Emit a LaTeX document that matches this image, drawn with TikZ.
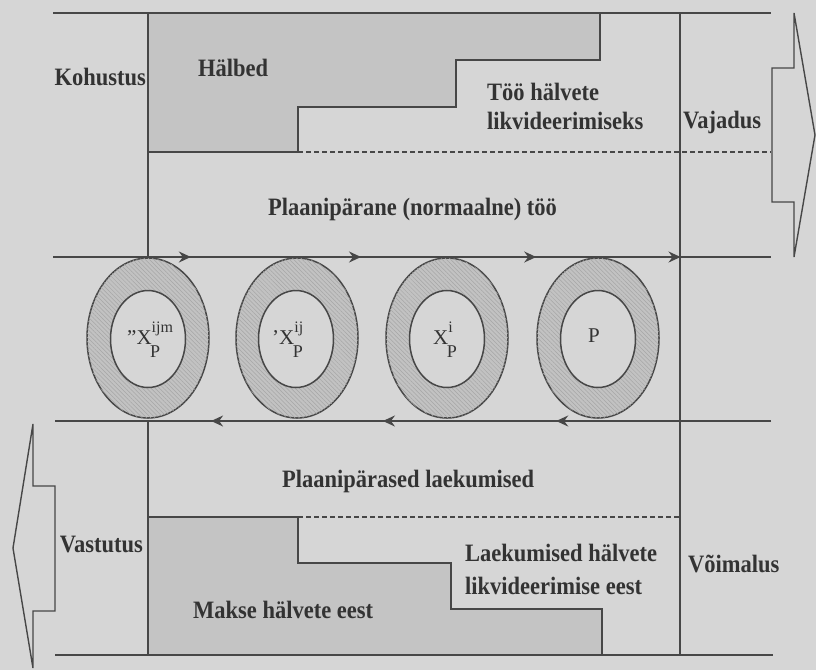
\documentclass[tikz,border=0pt]{standalone}
\usepackage{fontspec}
\setmainfont{Liberation Serif}
\newfontfamily\labelfont[FakeStretch=0.9]{Liberation Serif}
\usetikzlibrary{arrows.meta,decorations.markings,shapes.geometric,patterns.meta}

\definecolor{paper}{HTML}{D6D6D6}
\definecolor{ink}{HTML}{474747}
\definecolor{txt}{HTML}{333333}
\definecolor{stipple}{HTML}{C4C4C4}
\definecolor{hatchbase}{HTML}{C2C2C2}
\definecolor{hatchline}{HTML}{A6A6A6}

\tikzset{flowtip/.tip={Stealth[length=12pt,width=11pt,inset=4pt]}}

% X with an upper and a lower index, set in text mode
\newcommand{\idxsym}[3]{#1X\rlap{\raisebox{0.55em}{\fontsize{16}{16}\selectfont #2}}\kern-1.5pt\raisebox{-0.62em}{\fontsize{18}{18}\selectfont #3}}

\begin{document}
\begin{tikzpicture}[x=1pt,y=-1pt,
  rule/.style={draw=ink, line width=1.8pt},
  region/.style={fill=stipple, draw=ink, line width=1.8pt, line join=miter},
  divider/.style={draw=ink, line width=1.4pt, dash pattern=on 5pt off 3pt},
  caption/.style={font=\labelfont\bfseries\fontsize{25}{27}\selectfont, text=txt, inner sep=0pt},
  symbol/.style={font=\fontsize{21}{23}\selectfont, text=txt, inner sep=0pt},
  ring/.style={ellipse, draw=ink, line width=1.5pt, minimum width=122pt, minimum height=160pt,
    inner sep=0pt, fill=hatchbase,
    postaction={pattern={Lines[angle=-45,distance=3pt,line width=0.5pt]}, pattern color=hatchline}},
  core/.style={ellipse, draw=ink, line width=1.5pt, minimum width=75pt, minimum height=97pt,
    inner sep=0pt, fill=paper},
  flowright/.style={decoration={markings,
      mark=at position 0.192 with {\arrow{flowtip}},
      mark=at position 0.429 with {\arrow{flowtip}},
      mark=at position 0.673 with {\arrow{flowtip}},
      mark=at position 0.874 with {\arrow{flowtip}}}, postaction=decorate},
  flowleft/.style={decoration={markings,
      mark=at position 0.300 with {\arrow{flowtip}},
      mark=at position 0.542 with {\arrow{flowtip}},
      mark=at position 0.782 with {\arrow{flowtip}}}, postaction=decorate},
  bigarrow/.style={draw=ink, line width=1.4pt, line join=miter}
]
\useasboundingbox (0,0) rectangle (816,670);
\fill[paper] (0,0) rectangle (816,670);

% frame coordinates
\coordinate (tl) at (53,13);   \coordinate (tr) at (771,13);
\coordinate (ml) at (53,257);  \coordinate (mr) at (771,257);
\coordinate (nl) at (55,421);  \coordinate (nr) at (771,421);
\coordinate (bl) at (55,655);  \coordinate (br) at (773,655);
\coordinate (v1t) at (148,13);  \coordinate (v1m) at (148,257);
\coordinate (v1n) at (148,421); \coordinate (v1b) at (148,655);
\coordinate (v2t) at (680,13);  \coordinate (v2b) at (680,655);
\coordinate (d1a) at (298,152); \coordinate (d1b) at (771,152);
\coordinate (d2a) at (298,517); \coordinate (d2b) at (680,517);

% stippled deviation areas
\path[region] (148,13) -- (600,13) -- (600,60) -- (456,60) -- (456,107)
  -- (298,107) -- (298,152) -- (148,152) -- cycle;
\path[region] (148,517) -- (298,517) -- (298,563) -- (451,563) -- (451,609)
  -- (602,609) -- (602,655) -- (148,655) -- cycle;

% dashed separators
\draw[divider] (d1a) -- (d1b);
\draw[divider] (d2a) -- (d2b);

% frame lines
\draw[rule] (tl) -- (tr);
\draw[rule] (bl) -- (br);
\draw[rule] (v1t) -- (v1m);
\draw[rule] (v1n) -- (v1b);
\draw[rule] (v2t) -- (v2b);

% rings of the process
\node[ring] (r1) at (148,338) {};
\node[ring] (r2) at (297,338) {};
\node[ring] (r3) at (447,338) {};
\node[ring] (r4) at (598,338) {};
\node[core] (c1) at (148,339) {};
\node[core] (c2) at (296,339) {};
\node[core] (c3) at (447,339) {};
\node[core] (c4) at (598,339) {};

% flow lines with direction marks
\draw[rule, flowright] (ml) -- (mr);
\draw[rule, flowleft] (nr) -- (nl);

% outline arrows
\draw[bigarrow] (772,68) -- (794,68) -- (794,13) -- (815,135) -- (794,257)
  -- (794,202) -- (772,202) -- cycle;
\draw[bigarrow] (55,486) -- (33,486) -- (33,424) -- (13,548) -- (33,668)
  -- (33,611) -- (55,611) -- cycle;

% ring labels
\node[symbol, anchor=base west] (s1) at (127,344) {\idxsym{''}{ijm}{P}};
\node[symbol, anchor=base west] (s2) at (272,344) {\idxsym{'}{ij}{P}};
\node[symbol, anchor=base west] (s3) at (433,344) {\idxsym{}{i}{P}};
\node[symbol, anchor=base west] (s4) at (588,342) {P};

% captions
\node[caption, anchor=base east] (kohustus) at (146,85) {Kohustus};
\node[caption, anchor=base west] (halbed) at (198,76) {Hälbed};
\node[caption, anchor=base west] (too1) at (487,100) {Töö hälvete};
\node[caption, anchor=base west] (too2) at (487,129) {likvideerimiseks};
\node[caption, anchor=base west] (vajadus) at (683,128) {Vajadus};
\node[caption, anchor=base west] (plaan) at (268,215) {Plaanipärane (normaalne) töö};
\node[caption, anchor=base west] (laek) at (282,487) {Plaanipärased laekumised};
\node[caption, anchor=base east] (vastutus) at (143,552) {Vastutus};
\node[caption, anchor=base west] (laek1) at (465,561) {Laekumised hälvete};
\node[caption, anchor=base west] (laek2) at (465,594) {likvideerimise eest};
\node[caption, anchor=base west] (voimalus) at (688,572) {Võimalus};
\node[caption, anchor=base west] (makse) at (193,618) {Makse hälvete eest};
\end{tikzpicture}
\end{document}
